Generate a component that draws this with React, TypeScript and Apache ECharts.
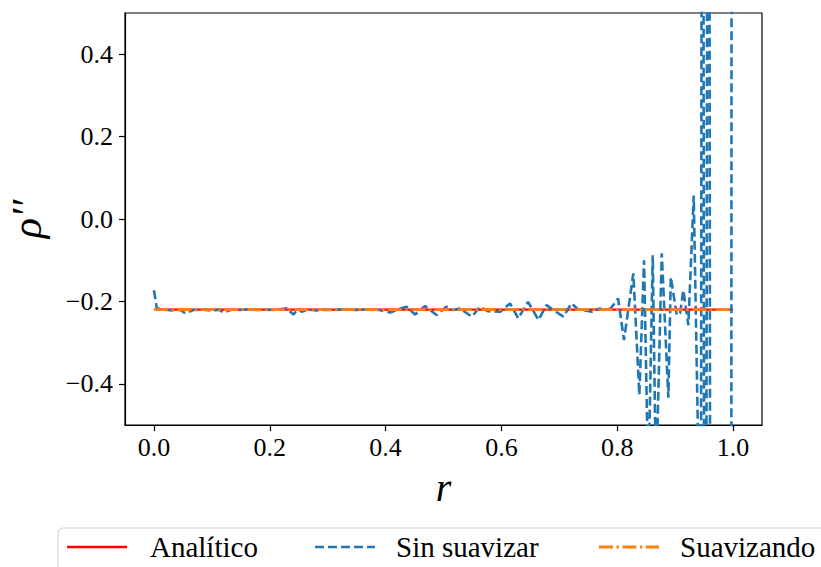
import React, { useEffect, useRef } from "react";
import * as echarts from "echarts";

// Tick labels
const xTicks = [0.0, 0.2, 0.4, 0.6, 0.8, 1.0];
const yTicks = [-0.4, -0.2, 0.0, 0.2, 0.4];

// Legend entries
const legendNames = ["Analítico", "Sin suavizar", "Suavizando"];

// Analytic solution and smoothed reconstruction (constant level)
const rLine = [0.0, 0.25, 0.5, 0.75, 1.0];
const analitico = [-0.22, -0.22, -0.22, -0.22, -0.22];
const suavizando = [-0.22, -0.22, -0.22, -0.22, -0.22];

// Unsmoothed reconstruction
const rSin = [
  0.0, 0.005, 0.018, 0.033, 0.045, 0.054, 0.068, 0.085, 0.102, 0.112, 0.12, 0.135, 0.149, 0.163,
  0.177, 0.192, 0.206, 0.218, 0.229, 0.241, 0.249, 0.255, 0.268, 0.281, 0.295, 0.31, 0.328, 0.347,
  0.36, 0.373, 0.39, 0.408, 0.422, 0.436, 0.451, 0.468, 0.478, 0.488, 0.505, 0.517, 0.528, 0.549,
  0.563, 0.577, 0.598, 0.615, 0.629, 0.646, 0.664, 0.678, 0.693, 0.707, 0.721, 0.733, 0.745, 0.756,
  0.77, 0.782, 0.79, 0.8015, 0.8117, 0.8278, 0.8382, 0.8463, 0.8537, 0.8613, 0.867, 0.8769, 0.8883,
  0.8925, 0.9028, 0.9085, 0.9142, 0.9228, 0.9321, 0.9404, 0.943, 0.9473, 0.9516, 0.9577, 0.962,
  0.97, 0.98, 0.99, 0.995, 1.0,
];
const sinSuavizar = [
  -0.173, -0.217, -0.22, -0.222, -0.22, -0.229, -0.221, -0.22, -0.223, -0.22, -0.227, -0.22, -0.221,
  -0.219, -0.221, -0.22, -0.221, -0.219, -0.217, -0.232, -0.217, -0.225, -0.22, -0.222, -0.22,
  -0.221, -0.219, -0.221, -0.22, -0.219, -0.221, -0.227, -0.219, -0.213, -0.232, -0.211, -0.222,
  -0.233, -0.213, -0.221, -0.217, -0.237, -0.213, -0.224, -0.225, -0.205, -0.241, -0.201, -0.245,
  -0.209, -0.224, -0.237, -0.205, -0.22, -0.222, -0.225, -0.217, -0.223, -0.215, -0.193, -0.294,
  -0.132, -0.427, -0.1, -0.65, -0.088, -0.65, -0.083, -0.434, -0.141, -0.233, -0.229, -0.173, -0.258,
  0.057, -0.6, -3, 3, -3, 3, -3, -5, -6, -8, -8, 10,
];

const FONT = "'Liberation Serif', 'DejaVu Serif', serif";
const RED = "#ff0000";
const BLUE = "#1f77b4";
const ORANGE = "#ff7f0e";
const BLUE_DASH = [9, 4];
const ORANGE_DASH = [14, 3.5, 2.4, 3.5];

const fmt = (v: number) => {
  const s = Math.abs(v) < 1e-9 ? "0.0" : v.toFixed(1);
  return s.replace("-", "\u2212");
};

export default function App() {
  const ref = useRef<HTMLDivElement>(null);
  useEffect(() => {
    if (!ref.current) return;
    const chart = echarts.init(ref.current, undefined, { renderer: "svg" });
    const pair = (xs: number[], ys: number[]) => xs.map((x, i) => [x, ys[i]]);
    const legendY = 547;
    const legendItem = (x0: number, textX: number, color: string, dash: number[] | null, w: number, label: string) => [
      {
        type: "line",
        z: 10,
        shape: { x1: x0, y1: legendY, x2: x0 + 60, y2: legendY },
        style: { stroke: color, lineWidth: w, lineDash: dash || undefined },
      },
      {
        type: "text",
        z: 10,
        x: textX,
        y: legendY,
        style: {
          text: label,
          fill: "#000",
          font: `29px ${FONT}`,
          textVerticalAlign: "middle",
          verticalAlign: "middle",
        },
      },
    ];
    chart.setOption({
      animation: false,
      backgroundColor: "#ffffff",
      textStyle: { fontFamily: FONT },
      grid: {
        left: 125,
        top: 13,
        right: 59,
        bottom: 142,
        show: true,
        borderColor: "#000",
        borderWidth: 1.2,
        containLabel: false,
        outerBoundsMode: "none",
      },
      graphic: [
        {
          type: "rect",
          z: 9,
          shape: { x: 58, y: 528, width: 820, height: 80, r: 5 },
          style: { fill: "#ffffff", stroke: "#d6d6d6", lineWidth: 1.2 },
        },
        ...legendItem(67, 150, RED, null, 2.4, legendNames[0]),
        ...legendItem(315, 396, BLUE, BLUE_DASH, 2.6, legendNames[1]),
        ...legendItem(599, 680, ORANGE, ORANGE_DASH, 2.8, legendNames[2]),
      ],
      xAxis: {
        type: "value",
        min: -0.05,
        max: 1.05,
        name: "r",
        nameLocation: "middle",
        nameGap: 42,
        nameTextStyle: { fontFamily: FONT, fontSize: 40, fontStyle: "italic", color: "#000" },
        splitLine: { show: false },
        axisLine: { show: true, onZero: false, lineStyle: { color: "#000", width: 1.2 } },
        axisTick: { show: true, customValues: xTicks, length: 6, lineStyle: { color: "#000", width: 1.2 } },
        axisLabel: {
          customValues: xTicks,
          formatter: (v: number) => fmt(v),
          fontFamily: FONT,
          fontSize: 26,
          color: "#000",
          margin: 9,
        },
      },
      yAxis: {
        type: "value",
        min: -0.5,
        max: 0.5,
        name: "ρ′′",
        nameLocation: "middle",
        nameRotate: 90,
        nameGap: 77,
        nameTextStyle: { fontFamily: FONT, fontSize: 42, fontStyle: "italic", color: "#000" },
        splitLine: { show: false },
        axisLine: { show: true, onZero: false, lineStyle: { color: "#000", width: 1.2 } },
        axisTick: { show: true, customValues: yTicks, length: 6, lineStyle: { color: "#000", width: 1.2 } },
        axisLabel: {
          customValues: yTicks,
          formatter: (v: number) => fmt(v),
          fontFamily: FONT,
          fontSize: 26,
          color: "#000",
          margin: 12,
        },
      },
      series: [
        {
          name: legendNames[0],
          type: "line",
          data: pair(rLine, analitico),
          symbol: "none",
          clip: true,
          color: RED,
          lineStyle: { color: RED, width: 2.4, type: "solid" },
          z: 2,
        },
        {
          name: legendNames[1],
          type: "line",
          data: pair(rSin, sinSuavizar),
          symbol: "none",
          clip: true,
          color: BLUE,
          lineStyle: { color: BLUE, width: 2.6, type: BLUE_DASH },
          z: 3,
        },
        {
          name: legendNames[2],
          type: "line",
          data: pair(rLine, suavizando),
          symbol: "none",
          clip: true,
          color: ORANGE,
          lineStyle: { color: ORANGE, width: 2.8, type: ORANGE_DASH },
          z: 4,
        },
      ],
    });
    return () => chart.dispose();
  }, []);
  return (
    <div
      ref={ref}
      style={{ position: "fixed", left: 0, top: 0, width: 821, height: 567, background: "#fff" }}
    />
  );
}
